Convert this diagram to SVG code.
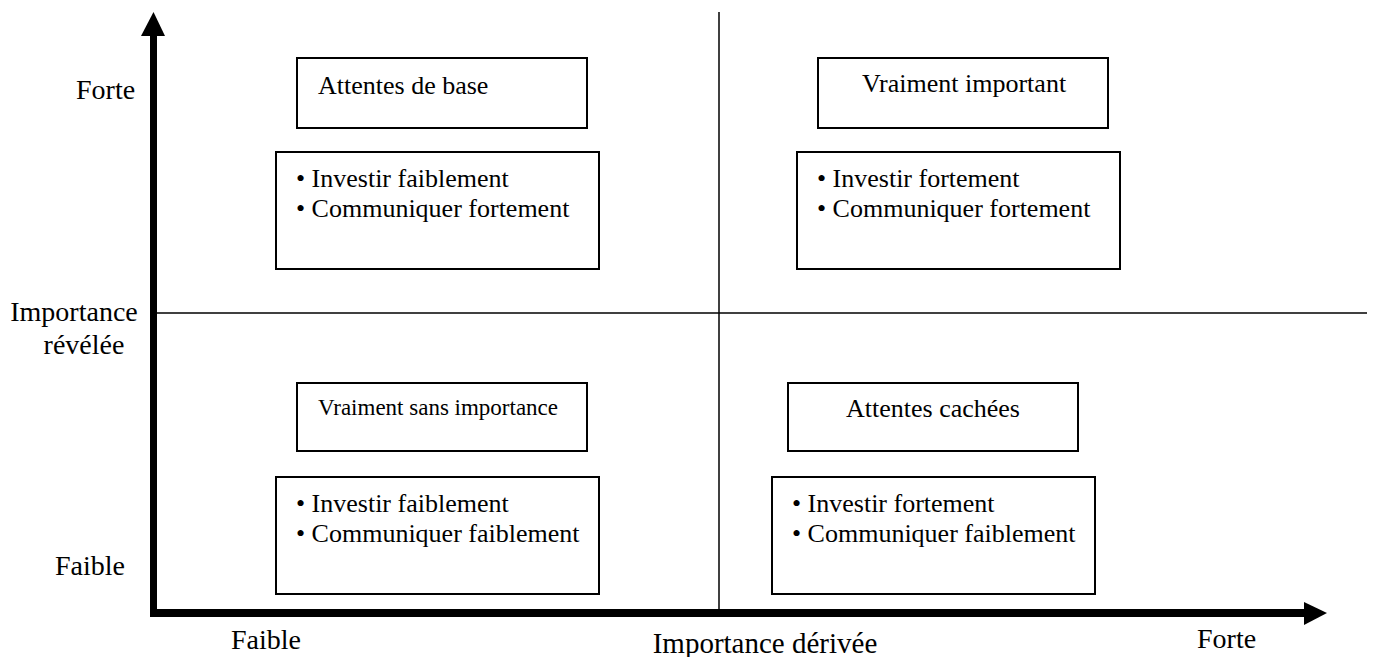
<svg xmlns="http://www.w3.org/2000/svg" width="1375" height="657" viewBox="0 0 1375 657">
<style>
text{font-family:"Liberation Serif","Times New Roman",serif;font-size:26px;fill:#000}
.ax{font-size:28px}
.box{fill:#fff;stroke:#000;stroke-width:2}
.small{font-size:23px}
.thin{stroke:#000;stroke-width:1.5;fill:none}
</style>
<rect width="1375" height="657" fill="#fff"/>
<g id="connectors">
<line class="thin" x1="719" y1="12" x2="719" y2="612"/>
<line class="thin" x1="157" y1="313" x2="1367" y2="313"/>
<rect x="150" y="34" width="7" height="583" fill="#000"/>
<polygon points="153.5,12 141,36 165,36" fill="#000"/>
<rect x="150" y="609" width="1156" height="8" fill="#000"/>
<polygon points="1327,613 1304,602 1304,625" fill="#000"/>
</g>
<g id="axis-labels">
<text class="ax" x="76" y="99">Forte</text>
<text class="ax" x="74" y="321" text-anchor="middle">Importance</text>
<text class="ax" x="84" y="354" text-anchor="middle">révélée</text>
<text class="ax" x="90" y="575" text-anchor="middle">Faible</text>
<text class="ax" x="231" y="649">Faible</text>
<text class="ax" x="765" y="653" text-anchor="middle" style="font-size:29px">Importance dérivée</text>
<text class="ax" x="1197" y="648">Forte</text>
</g>
<g id="n1"><rect class="box" x="297" y="58" width="290" height="70"/><text x="318" y="94">Attentes de base</text></g>
<g id="n2"><rect class="box" x="276" y="152" width="323" height="117"/><text x="296" y="187">• Investir faiblement</text><text x="296" y="217">• Communiquer fortement</text></g>
<g id="n3"><rect class="box" x="818" y="58" width="290" height="70"/><text x="964" y="92" text-anchor="middle">Vraiment important</text></g>
<g id="n4"><rect class="box" x="797" y="152" width="323" height="117"/><text x="817" y="187">• Investir fortement</text><text x="817" y="217">• Communiquer fortement</text></g>
<g id="n5"><rect class="box" x="297" y="383" width="290" height="68"/><text class="small" x="318" y="415">Vraiment sans importance</text></g>
<g id="n6"><rect class="box" x="276" y="477" width="323" height="117"/><text x="296" y="512">• Investir faiblement</text><text x="296" y="542">• Communiquer faiblement</text></g>
<g id="n7"><rect class="box" x="788" y="383" width="290" height="68"/><text x="933" y="417" text-anchor="middle">Attentes cachées</text></g>
<g id="n8"><rect class="box" x="772" y="477" width="323" height="117"/><text x="792" y="512">• Investir fortement</text><text x="792" y="542">• Communiquer faiblement</text></g>
</svg>
